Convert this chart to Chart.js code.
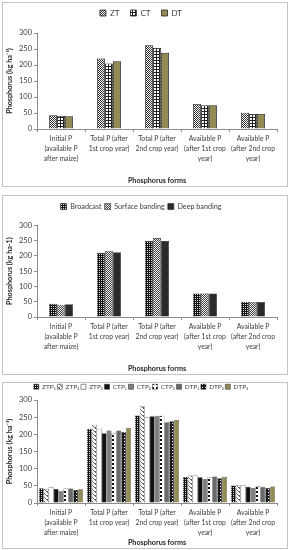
<!DOCTYPE html>
<html>
<head>
<meta charset="utf-8">
<script src="https://cdn.jsdelivr.net/npm/chart.js@4.4.0/dist/chart.umd.min.js"></script>
<style>
  body { margin: 0; background: #fff; width: 291px; height: 550px; position: relative; overflow: hidden; }
  .box { position: absolute; left: 2px; width: 284px; border: 1px solid #c4c4c4; background: #fff; }
  canvas { display: block; }
</style>
</head>
<body>
<div class="box" style="top:2px;height:183px;"><canvas id="c1" width="284" height="183"></canvas></div>
<div class="box" style="top:195px;height:178px;"><canvas id="c2" width="284" height="178"></canvas></div>
<div class="box" style="top:382px;height:165px;"><canvas id="c3" width="284" height="165"></canvas></div>
<script>
// categories (x axis)
const categories = [
  ['Initial P', '(available P', 'after maize)'],
  ['Total P (after', '1st crop year)'],
  ['Total P (after', '2nd crop year)'],
  ['Available P', '(after 1st crop', 'year)'],
  ['Available P', '(after 2nd crop', 'year)']
];
const yTicks = [0, 50, 100, 150, 200, 250, 300];

// chart 1: tillage
const tillageNames = ['ZT', 'CT', 'DT'];
const ZT = [43, 220, 262, 78, 51];
const CT = [41, 205, 253, 74, 47];
const DT = [40, 212, 238, 74, 47];

// chart 2: placement
const placementNames = ['Broadcast', 'Surface banding', 'Deep banding'];
const broadcast = [43, 210, 248, 77, 50];
const surfaceBanding = [40, 216, 258, 77, 49];
const deepBanding = [42, 212, 248, 77, 49];

// chart 3: tillage x placement
const comboNames = ['ZTP\u2081', 'ZTP\u2082', 'ZTP\u2083', 'CTP\u2081', 'CTP\u2082', 'CTP\u2083', 'DTP\u2081', 'DTP\u2082', 'DTP\u2083'];
const ZTP1 = [43, 216, 255, 76, 51];
const ZTP2 = [41, 228, 282, 80, 52];
const ZTP3 = [46, 216, 250, 80, 52];
const CTP1 = [41, 203, 253, 75, 47];
const CTP2 = [36, 211, 254, 70, 44];
const CTP3 = [42, 204, 254, 76, 49];
const DTP1 = [42, 211, 235, 77, 47];
const DTP2 = [38, 207, 238, 72, 44];
const DTP3 = [40, 219, 242, 76, 48];

// patterns
function pattern(size, draw) {
  const c = document.createElement('canvas');
  c.width = size; c.height = size;
  const g = c.getContext('2d');
  draw(g, size);
  return c.getContext('2d').createPattern(c, 'repeat');
}
function fill(g, col, s) { g.fillStyle = col; g.fillRect(0, 0, s, s); }
const fineChecker = pattern(2, (g, s) => { fill(g, '#fff', s); g.fillStyle = '#333'; g.fillRect(0, 0, 1, 1); g.fillRect(1, 1, 1, 1); });
const gridPat = pattern(3, (g, s) => { fill(g, '#fff', s); g.fillStyle = '#222'; g.fillRect(0, 0, 3, 1); g.fillRect(0, 0, 1, 3); });
const darkDots = pattern(2, (g, s) => { fill(g, '#111', s); g.fillStyle = '#ddd'; g.fillRect(0, 0, 1, 1); });
const grayChecker = pattern(2, (g, s) => { fill(g, '#eee', s); g.fillStyle = '#444'; g.fillRect(0, 0, 1, 1); g.fillRect(1, 1, 1, 1); });
const diagPat = pattern(4, (g, s) => { fill(g, '#fff', s); g.fillStyle = '#666'; for (let i = 0; i < 4; i++) g.fillRect(i, (i + 1) % 4, 1, 1); g.fillRect(0, 0, 1, 1); });
const dashPat = pattern(4, (g, s) => { fill(g, '#fff', s); g.fillStyle = '#111'; g.fillRect(1, 0, 2, 2); });
const sparseDots = pattern(3, (g, s) => { fill(g, '#1a1a1a', s); g.fillStyle = '#fff'; g.fillRect(1, 1, 1, 1); });
const olive = '#948a54';

const fam = 'Lato';
Chart.defaults.font.family = fam;
Chart.defaults.color = '#404040';

function makeChart(id, names, series, fills, cfg) {
  const datasets = names.map((n, i) => ({
    label: n,
    data: series[i],
    backgroundColor: fills[i],
    borderColor: '#222',
    borderWidth: cfg.border,
    barPercentage: 1,
    categoryPercentage: cfg.catPct
  }));
  return new Chart(document.getElementById(id), {
    type: 'bar',
    data: { labels: categories, datasets: datasets },
    options: {
      responsive: false,
      animation: false,
      layout: { padding: { left: 2, right: 10, top: cfg.top, bottom: 1 } },
      plugins: {
        legend: {
          position: 'top',
          labels: { boxWidth: cfg.box, boxHeight: cfg.box, padding: cfg.legPad, font: { family: fam, size: cfg.legFont }, color: '#404040' }
        },
        // empty spacer between legend and plot
        title: { display: cfg.gap > 0, text: '', weight: 500, font: { size: 1, lineHeight: 1 }, padding: { top: Math.max(cfg.gap - 1, 0), bottom: 0 } },
        tooltip: { enabled: false }
      },
      scales: {
        x: {
          grid: { drawOnChartArea: false, drawTicks: true, tickLength: 3, color: '#8c8c8c' },
          border: { color: '#8c8c8c' },
          ticks: { font: { family: fam, size: 6.8, lineHeight: 1.45 }, maxRotation: 0, autoSkip: false, padding: 2, color: '#404040' },
          title: { display: true, text: 'Phosphorus forms', font: { family: fam, size: 7.2, weight: 'bold' }, color: '#262626', padding: { top: 0, bottom: 0 } },
          afterFit: s => { s.height = cfg.xHeight; }
        },
        y: {
          min: 0, max: 300,
          afterBuildTicks: s => { s.ticks = yTicks.map(v => ({ value: v })); },
          grid: { drawOnChartArea: false, drawTicks: true, tickLength: 3, color: '#8c8c8c' },
          border: { color: '#8c8c8c' },
          ticks: { font: { family: fam, size: 7.5 }, padding: 2, color: '#404040' },
          title: { display: true, text: cfg.yTitle, font: { family: fam, size: 7.2, weight: 'bold' }, color: '#262626', padding: { top: 0, bottom: 3 } },
          afterFit: s => { s.width = cfg.yWidth; }
        }
      }
    }
  });
}

makeChart('c1', tillageNames, [ZT, CT, DT], [fineChecker, gridPat, olive],
  { border: 0.8, catPct: 0.5, top: -5, gap: 6, box: 6, legPad: 11, legFont: 8, yTitle: 'Phosphorus (kg ha\u207B\u00B9)', yWidth: 32, xHeight: 56 });
makeChart('c2', placementNames, [broadcast, surfaceBanding, deepBanding], [darkDots, grayChecker, '#2b2b2b'],
  { border: 0.6, catPct: 0.5, top: 4, gap: 5, box: 6, legPad: 3, legFont: 7.2, yTitle: 'Phosphorus (kg ha-1)', yWidth: 32, xHeight: 56 });
makeChart('c3', comboNames, [ZTP1, ZTP2, ZTP3, CTP1, CTP2, CTP3, DTP1, DTP2, DTP3],
  [darkDots, diagPat, '#ffffff', '#111111', '#7f7f7f', dashPat, '#6a6a6a', sparseDots, olive],
  { border: 0.5, catPct: 0.92, top: -1, gap: 0, box: 5, legPad: 1.5, legFont: 6.5, yTitle: 'Phosphorus (kg ha\u207B\u00B9)', yWidth: 32, xHeight: 44 });
</script>
</body>
</html>
